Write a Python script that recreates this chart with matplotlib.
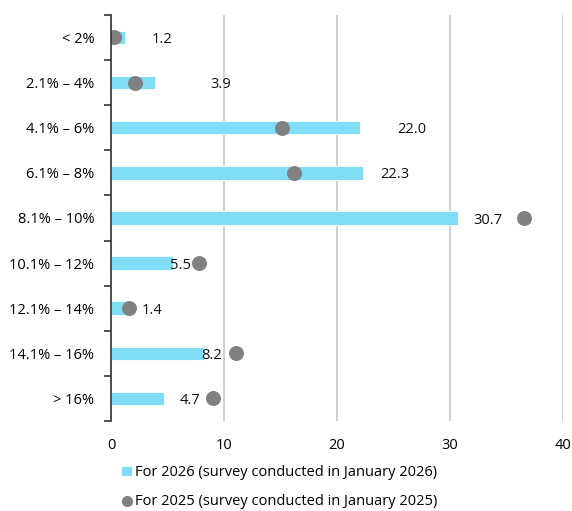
import matplotlib.pyplot as plt
import numpy as np

plt.rcParams['font.family'] = ['Open Sans', 'DejaVu Sans']

# Data
categories = ['< 2%', '2.1% – 4%', '4.1% – 6%', '6.1% – 8%', '8.1% – 10%',
              '10.1% – 12%', '12.1% – 14%', '14.1% – 16%', '> 16%']
share_2026 = [1.2, 3.9, 22.0, 22.3, 30.7, 5.5, 1.4, 8.2, 4.7]
share_2025 = [0.3, 2.1, 15.1, 16.2, 36.6, 7.8, 1.6, 11.1, 9.0]
# horizontal offset (points) of each value label from the bar end
label_offsets = [27, 47, 38, 23, 22, 5, 18, 6, 19]

BAR_COLOR = '#7FDDF5'
DOT_COLOR = '#808080'

fig = plt.figure(figsize=(5.72, 5.11), dpi=100)
ax = fig.add_axes([0.194, 0.176, 0.790, 0.795])

y = np.arange(len(categories))
bars = ax.barh(y, share_2026, height=0.3, color=BAR_COLOR, edgecolor='white',
               linewidth=0.6, zorder=2, label='For 2026 (survey conducted in January 2026)')
dots = ax.scatter(share_2025, y, s=95, color=DOT_COLOR, zorder=3,
                  label='For 2025 (survey conducted in January 2025)')

for yi, v, off in zip(y, share_2026, label_offsets):
    ax.annotate(f'{v:.1f}', (v, yi), xytext=(off, -1.5), textcoords='offset points',
                ha='center', va='center', fontsize=10.5, color='#111111', zorder=4)

ax.set_xlim(0, 40)
ax.set_ylim(len(categories) - 0.5, -0.5)
ax.set_xticks([0, 10, 20, 30, 40])
ax.set_yticks(y)
ax.set_yticklabels(categories)
ax.set_yticks(np.arange(len(categories) + 1) - 0.5, minor=True)
ax.tick_params(axis='y', which='major', length=0, pad=12, labelsize=10.5)
ax.tick_params(axis='y', which='minor', length=5, width=1.2, color='#333333')
ax.tick_params(axis='x', length=0, pad=12, labelsize=10.5)

ax.grid(axis='x', color='#C8C8C8', linewidth=1.2, zorder=0)
ax.set_axisbelow(True)
for s in ['top', 'right', 'bottom']:
    ax.spines[s].set_visible(False)
ax.spines['left'].set_color('#333333')
ax.spines['left'].set_linewidth(1.2)
ax.spines['left'].set_zorder(5)

ax.legend(handles=[bars, dots], loc='upper left', bbox_to_anchor=(0.023, -0.108),
          frameon=False, fontsize=10.5, handlelength=0.75, handleheight=0.75,
          markerscale=0.72, handletextpad=0.2, labelspacing=0.95,
          borderaxespad=0, borderpad=0)

fig.savefig('out.png', dpi=100)
